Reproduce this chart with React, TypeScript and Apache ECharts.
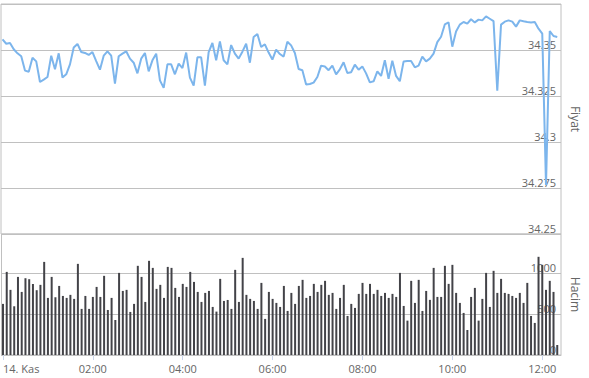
import React, { useEffect, useRef } from "react";
import * as echarts from "echarts";

// Fiyat (price), 5-minute points from 00:00 (14. Kas)
const PRICES: number[] = [
  34.3558, 34.3534, 34.3538, 34.3504, 34.3482, 34.3466, 34.3388, 34.3382, 34.3458, 34.3438,
  34.3326, 34.3339, 34.3353, 34.3469, 34.3395, 34.3482, 34.3350, 34.3368, 34.3422, 34.3514,
  34.3533, 34.3489, 34.3484, 34.3473, 34.3489, 34.3440, 34.3393, 34.3469, 34.3493, 34.3469,
  34.3317, 34.3466, 34.3480, 34.3493, 34.3453, 34.3431, 34.3373, 34.3453, 34.3484, 34.3384,
  34.3444, 34.3480, 34.3335, 34.3294, 34.3422, 34.3422, 34.3368, 34.3426, 34.3402, 34.3486,
  34.3350, 34.3306, 34.3460, 34.3460, 34.3306, 34.3489, 34.3538, 34.3444, 34.3547, 34.3444,
  34.3422, 34.3527, 34.3480, 34.3453, 34.3491, 34.3534, 34.3431, 34.3571, 34.3587, 34.3516,
  34.3531, 34.3486, 34.3448, 34.3502, 34.3478, 34.3464, 34.3545, 34.3525, 34.3484, 34.3397,
  34.3390, 34.3312, 34.3315, 34.3323, 34.3353, 34.3415, 34.3410, 34.3390, 34.3415, 34.3368,
  34.3395, 34.3433, 34.3375, 34.3379, 34.3420, 34.3393, 34.3411, 34.3373, 34.3324, 34.3330,
  34.3384, 34.3359, 34.3444, 34.3344, 34.3442, 34.3359, 34.3330, 34.3437, 34.3440, 34.3440,
  34.3406, 34.3415, 34.3464, 34.3438, 34.3453, 34.3480, 34.3543, 34.3572, 34.3639, 34.3650,
  34.3518, 34.3601, 34.3638, 34.3652, 34.3643, 34.3667, 34.3650, 34.3665, 34.3661, 34.3683,
  34.3670, 34.3657, 34.3279, 34.3638, 34.3654, 34.3661, 34.3654, 34.3627, 34.3661, 34.3656,
  34.3652, 34.3650, 34.3652, 34.3616, 34.3589, 34.2766, 34.3603, 34.3576, 34.3571,
];

// Hacim (volume)
const VOLUMES: number[] = [
  623, 1013, 794, 594, 952, 769, 936, 924, 867, 790,
  855, 1135, 696, 952, 704, 842, 720, 696, 733, 684,
  1111, 562, 720, 562, 708, 830, 708, 965, 549, 696,
  427, 1001, 781, 794, 525, 623, 1087, 952, 647, 1148,
  1062, 806, 855, 696, 1074, 1062, 818, 708, 867, 830,
  1013, 891, 769, 647, 757, 781, 586, 529, 928, 659,
  671, 562, 1038, 647, 1184, 733, 684, 659, 562, 879,
  440, 769, 684, 635, 586, 842,
  537, 757, 623, 842, 916, 696, 720, 867, 769, 855,
  904, 733, 757, 562, 696, 855, 476, 623, 574, 745,
  879, 745, 867, 745, 794, 720, 757, 696, 745, 708,
  1001, 598, 419, 904, 635, 916, 537, 781, 672, 1062,
  708, 708, 1087, 867, 1099, 757, 635, 513, 305, 708,
  818, 419, 684, 1001, 586, 1026, 757, 928, 757, 745,
  720, 696, 757, 635, 879, 476, 391, 1197, 1099, 794,
  904, 769, 122,
];

// minutes since 00:00 for each 5-minute point
const MINUTES: number[] = VOLUMES.map((_, i) => i * 5);

const TICK_MINUTES: number[] = [0, 120, 240, 360, 480, 600, 720];
const TICK_LABELS: string[] = ["14. Kas", "02:00", "04:00", "06:00", "08:00", "10:00", "12:00"];

const PRICE_TICKS = { min: 34.25, max: 34.375, interval: 0.025 };
const VOLUME_TICKS = { min: 0, max: 1475, interval: 500 };

const GRID_COLOR = "#C0C0C0";
const LABEL_COLOR = "#666666";
const FONT = "'Open Sans', 'Noto Sans', sans-serif";

export default function App() {
  const ref = useRef<HTMLDivElement>(null);

  useEffect(() => {
    if (!ref.current) return;
    const chart = echarts.init(ref.current, undefined, { renderer: "svg" });
    const xMin = -2;
    const xMax = 745;
    chart.setOption({
      animation: false,
      textStyle: { fontFamily: FONT },
      grid: [
        { left: 1, right: 22.3, top: 4, height: 230, show: true, borderColor: GRID_COLOR, borderWidth: 1, backgroundColor: "transparent" },
        { left: 1, right: 22.3, top: 234, height: 121, show: true, borderColor: GRID_COLOR, borderWidth: 1, backgroundColor: "transparent" },
      ],
      xAxis: [
        { type: "value", gridIndex: 0, min: xMin, max: xMax, show: false },
        {
          type: "value",
          gridIndex: 1,
          min: xMin,
          max: xMax,
          axisLine: { show: true, lineStyle: { color: GRID_COLOR } },
          axisTick: { show: true, length: 5, lineStyle: { color: "#ccd6eb" }, customValues: TICK_MINUTES },
          splitLine: { show: false },
          axisLabel: {
            customValues: TICK_MINUTES,
            color: LABEL_COLOR,
            fontSize: 11,
            fontFamily: FONT,
            margin: 8,
            alignMinLabel: "left",
            formatter: (v: number) => {
              const idx = TICK_MINUTES.indexOf(Math.round(v));
              return idx >= 0 ? TICK_LABELS[idx] : "";
            },
          },
        },
      ],
      yAxis: [
        {
          type: "value",
          gridIndex: 0,
          position: "right",
          min: PRICE_TICKS.min,
          max: PRICE_TICKS.max,
          interval: PRICE_TICKS.interval,
          axisLine: { show: false },
          axisTick: { show: false },
          splitLine: { show: true, lineStyle: { color: GRID_COLOR } },
          axisLabel: {
            inside: true,
            showMaxLabel: false,
            margin: 5,
            verticalAlign: "bottom",
            color: LABEL_COLOR,
            fontSize: 11,
            fontFamily: FONT,
            formatter: (v: number) => String(+v.toFixed(3)),
          },
          name: "Fiyat",
          nameLocation: "middle",
          nameRotate: -90,
          nameGap: 8,
          nameTextStyle: { color: LABEL_COLOR, fontSize: 12, fontFamily: FONT },
        },
        {
          type: "value",
          gridIndex: 1,
          position: "right",
          min: VOLUME_TICKS.min,
          max: VOLUME_TICKS.max,
          interval: VOLUME_TICKS.interval,
          axisLine: { show: false },
          axisTick: { show: false },
          splitLine: { show: true, lineStyle: { color: GRID_COLOR } },
          axisLabel: {
            inside: true,
            showMaxLabel: false,
            margin: 5,
            verticalAlign: "bottom",
            color: LABEL_COLOR,
            fontSize: 11,
            fontFamily: FONT,
            formatter: (v: number) => String(Math.round(v)),
          },
          name: "Hacim",
          nameLocation: "middle",
          nameRotate: -90,
          nameGap: 8,
          nameTextStyle: { color: LABEL_COLOR, fontSize: 12, fontFamily: FONT },
        },
      ],
      series: [
        {
          type: "bar",
          xAxisIndex: 1,
          yAxisIndex: 1,
          data: VOLUMES.map((v, i) => [MINUTES[i], v]),
          barWidth: 2,
          itemStyle: { color: "#434348" },
          z: 1,
        },
        {
          type: "line",
          xAxisIndex: 0,
          yAxisIndex: 0,
          data: PRICES.map((p, i) => [MINUTES[i], p]),
          showSymbol: false,
          symbol: "none",
          lineStyle: { color: "#7cb5ec", width: 2 },
          z: 3,
        },
      ],
    });
    return () => chart.dispose();
  }, []);

  return (
    <div
      ref={ref}
      style={{ position: "absolute", left: 0, top: 0, width: 589, height: 378, background: "#ffffff" }}
    />
  );
}
